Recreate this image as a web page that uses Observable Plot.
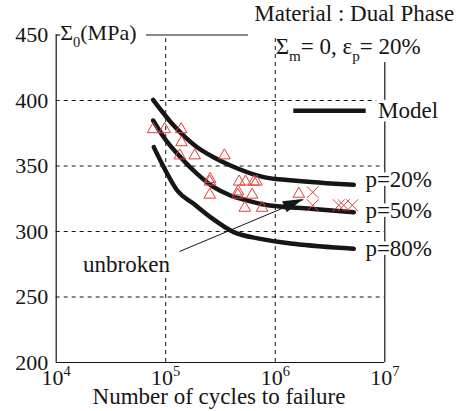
<!DOCTYPE html>
<html><head><meta charset="utf-8">
<script src="https://cdn.jsdelivr.net/npm/d3@7"></script>
<script src="https://cdn.jsdelivr.net/npm/@observablehq/plot@0.6"></script>
<style>body{margin:0;background:#fff}</style>
</head><body><div id="chart"></div>
<script>
// ---- data ----
const xTicks = [1e4, 1e5, 1e6, 1e7];
const yTicks = [200, 250, 300, 350, 400, 450];
const gridX = [1e5, 1e6];
const gridY = [250, 300, 350, 400];

const curveNames = ["p=20%", "p=50%", "p=80%"];
const curveN = [
  [76700, 118300, 193600, 272900, 389900, 785200, 1466000, 5212000],
  [76700, 95940, 136500, 193600, 274800, 389900, 554600, 785200, 2094000, 5212000],
  [77800, 95940, 127400, 180300, 256400, 417800, 732800, 1476000, 5212000]
];
const curveS = [
  [400.5, 380.9, 364.3, 356.7, 350.4, 341.5, 338.9, 335.6],
  [384.7, 372, 356.7, 344, 333.8, 327.5, 323.7, 320.6, 317.3, 314.7],
  [364.4, 349.1, 331.3, 321.1, 310.9, 299.5, 294.4, 290.6, 286.8]
];
const curveLabelN = [6650000, 6650000, 6650000];
const curveLabelS = [339.7, 315.6, 287];

const triN = [76700, 97900, 138400, 139300, 134300, 184100, 343600, 252400, 254000, 252400,
              467700, 534600, 636800, 674500, 455000, 458000, 615200, 527200, 758600, 1641000];
const triS = [378, 378, 378, 368, 358, 358, 358, 338, 340, 328,
              338, 338, 338, 338, 328, 330.5, 328, 318, 318, 328.7];
const crossN = [2198000, 2198000, 3802000, 4217000, 5035000];
const crossS = [330, 320, 320, 320, 320];

const arrowFrom = [133400, 284.7];
const arrowTo = [1807000, 324.4];
const unbrokenText = "unbroken";
const unbrokenAt = [17600, 274.5];

const legendText = "Model";
const legendLineN = [1476000, 6760000];
const legendS = 392.2;
const legendTextN = 8690000;

const titleLines = ["Material : Dual Phase", "Σ_m= 0, ε_p= 20%"];
const yLabel = "Σ_0(MPa)";
const xLabel = "Number of cycles to failure";

// ---- tables ----
const curves = curveN.flatMap((ns, i) => ns.map((n, j) => ({p: curveNames[i], n, s: curveS[i][j]})));
const labels = curveNames.map((t, i) => ({t, n: curveLabelN[i], s: curveLabelS[i]}));
const tris = triN.map((n, i) => ({n, s: triS[i]}));
const crosses = crossN.map((n, i) => ({n, s: crossS[i]}));

const RED = "#e0403c", INK = "#161616";
const serif = "'Liberation Serif', 'Times New Roman', serif";
const halo = {stroke: "white", strokeWidth: 7, paintOrder: "stroke", strokeLinejoin: "round"};

function arrowHead(index, scales) {
  if (!scales || typeof scales.x !== "function") return null;
  const x0 = scales.x(arrowFrom[0]), y0 = scales.y(arrowFrom[1]);
  const x1 = scales.x(arrowTo[0]), y1 = scales.y(arrowTo[1]);
  const a = Math.atan2(y1 - y0, x1 - x0), L = 20, W = 6;
  const bx = x1 - L * Math.cos(a), by = y1 - L * Math.sin(a);
  const px = -Math.sin(a) * W, py = Math.cos(a) * W;
  const p = document.createElementNS("http://www.w3.org/2000/svg", "path");
  p.setAttribute("d", `M${x1},${y1}L${bx + px},${by + py}L${bx - px},${by - py}Z`);
  p.setAttribute("fill", INK);
  return p;
}

const chart = Plot.plot({
  width: 461, height: 411,
  marginLeft: 55.7, marginRight: 76.7, marginTop: 34.5, marginBottom: 49,
  style: {fontFamily: serif, fontSize: "22px", background: "white", color: INK, overflow: "visible"},
  x: {type: "log", domain: [1e4, 1e7], ticks: xTicks, tickFormat: d => "10^" + Math.round(Math.log10(d)),
      tickSize: 0, tickPadding: 7, label: null},
  y: {domain: [200, 450], ticks: yTicks, tickSize: 0, tickPadding: 8, label: null},
  marks: [
    Plot.ruleX(gridX, {y1: 200, y2: 450, stroke: INK, strokeWidth: 1, strokeDasharray: "4,4"}),
    Plot.ruleY(gridY, {x1: 1e4, x2: 1e7, stroke: INK, strokeWidth: 1, strokeDasharray: "4,4"}),
    Plot.ruleX([1e4], {y1: 200, y2: 450, stroke: INK, strokeWidth: 1.2}),
    Plot.ruleY([200], {x1: 1e4, x2: 1e7, stroke: INK, strokeWidth: 1.2}),
    Plot.ruleX([1e7], {y1: 200, y2: 429, stroke: INK, strokeWidth: 1.2}),
    Plot.ruleY([450], {x1: 66700, x2: 569000, stroke: INK, strokeWidth: 1.2}),
    Plot.ruleY([450], {x1: 1e4, x2: 11000, stroke: INK, strokeWidth: 1.2}),
    Plot.line(curves, {x: "n", y: "s", z: "p", curve: "monotone-x", stroke: INK, strokeWidth: 4.5}),
    Plot.dot(tris, {x: "n", y: "s", symbol: "triangle", r: 4.3, stroke: RED, strokeWidth: 1, fill: "none"}),
    Plot.dot(crosses, {x: "n", y: "s", symbol: "times", r: 5.5, stroke: RED, strokeWidth: 1}),
    Plot.link([0], {x1: () => arrowFrom[0], y1: () => arrowFrom[1], x2: () => arrowTo[0], y2: () => arrowTo[1], stroke: INK, strokeWidth: 1}),
    arrowHead,
    Plot.ruleY([legendS], {x1: legendLineN[0], x2: legendLineN[1], stroke: INK, strokeWidth: 4.5}),
    Plot.text(labels, {x: "n", y: "s", text: "t", textAnchor: "start", lineAnchor: "middle", fontSize: 23, fill: INK, ...halo}),
    Plot.text([legendText], {x: () => legendTextN, y: () => legendS, text: d => d, textAnchor: "start", lineAnchor: "middle", fontSize: 23, fill: INK, ...halo}),
    Plot.text([unbrokenText], {x: () => unbrokenAt[0], y: () => unbrokenAt[1], text: d => d, textAnchor: "start", lineAnchor: "middle", fontSize: 23, fill: INK, ...halo}),
    Plot.text([titleLines[0]], {text: d => d, frameAnchor: "top-left", textAnchor: "middle", lineAnchor: "middle", dx: 298, dy: -21.5, fontSize: 23, fill: INK}),
    Plot.text([titleLines[1]], {text: d => d, frameAnchor: "top-left", textAnchor: "middle", lineAnchor: "middle", dx: 292, dy: 11.5, fontSize: 23, fill: INK}),
    Plot.text([yLabel], {text: d => d, frameAnchor: "top-left", textAnchor: "start", lineAnchor: "middle", dx: 4, dy: -2, fontSize: 22, fill: INK}),
    Plot.text([xLabel], {text: d => d, frameAnchor: "bottom", textAnchor: "middle", lineAnchor: "middle", dx: -1.5, dy: 34, fontSize: 23, fill: INK})
  ]
});
document.getElementById("chart").appendChild(chart);

// serif everywhere; rich text: _x subscript, ^x superscript
const NS = "http://www.w3.org/2000/svg";
chart.querySelectorAll("text").forEach(t => {
  t.style.fontFamily = serif;
  const s = t.textContent;
  if (!/[_^]/.test(s) || t.querySelector("tspan")) return;
  const fs = parseFloat(getComputedStyle(t).fontSize) || 22;
  const re = /([_^])([A-Za-z0-9]+)/g;
  while (t.firstChild) t.removeChild(t.firstChild);
  let last = 0, shift = 0, m, first = true;
  const add = (str, dy, size) => {
    if (first && !dy && !size) { t.appendChild(document.createTextNode(str)); first = false; return; }
    first = false;
    const sp = document.createElementNS(NS, "tspan");
    if (dy) sp.setAttribute("dy", dy);
    if (size) sp.setAttribute("font-size", size);
    sp.textContent = str;
    t.appendChild(sp);
  };
  while ((m = re.exec(s))) {
    if (m.index > last) { add(s.slice(last, m.index), -shift); shift = 0; }
    const d = m[1] === "_" ? fs * 0.32 : -fs * 0.42;
    add(m[2], d - shift, fs * 0.66);
    shift = d;
    last = re.lastIndex;
  }
  if (last < s.length) add(s.slice(last), -shift);
});
</script></body></html>
